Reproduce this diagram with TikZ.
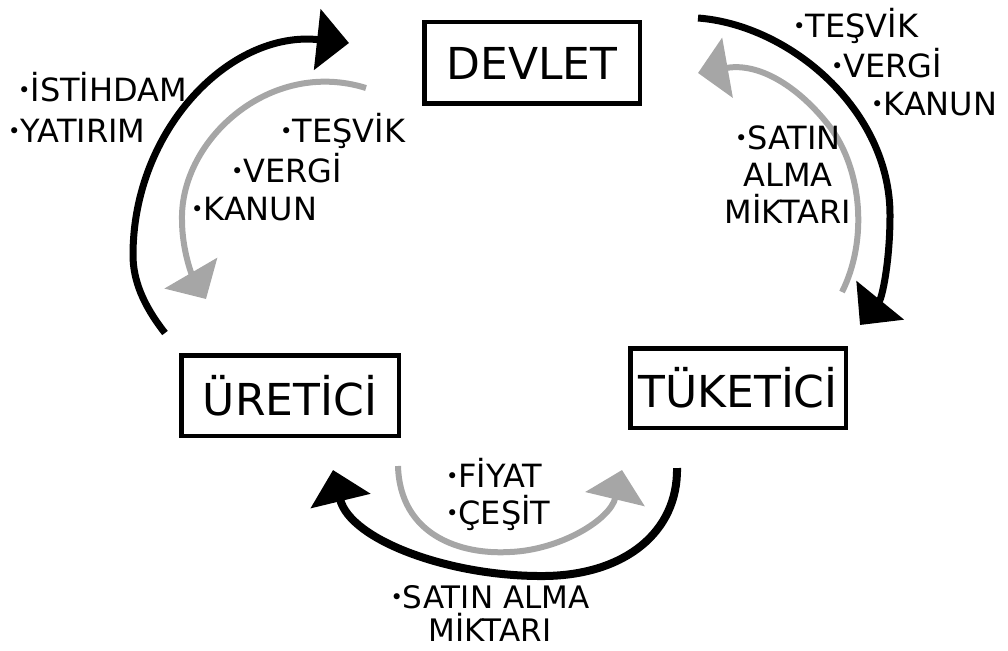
\documentclass[tikz,border=0pt]{standalone}
\usepackage{fontspec}
\setmainfont{DejaVu Sans}
\usetikzlibrary{arrows.meta}
\definecolor{arrowGray}{RGB}{166,166,166}

\newcommand{\bul}{\raisebox{4pt}{\fontsize{21}{21}\selectfont •}}

\begin{document}
\begin{tikzpicture}[x=1pt,y=-1pt,
  box/.style={draw,line width=4.5pt,inner sep=0pt,font=\fontsize{44}{50}\selectfont},
  lbl/.style={inner sep=0pt,font=\fontsize{32}{37}\selectfont},
  blackarc/.style={line width=7pt,-{Triangle[width=60pt,length=32pt]}},
  grayarc/.style={arrowGray,line width=6pt,-{Triangle[width=60pt,length=30pt]}}]
  \useasboundingbox (0,0) rectangle (1008,650);

  % the three actors
  \node[box,minimum width=215.5pt,minimum height=81.5pt] (devlet) at (532,63) {DEVLET};
  \node[box,minimum width=217.5pt,minimum height=80.5pt] (uretici) at (290,395.5) {ÜRETİCİ};
  \node[box,minimum width=215.5pt,minimum height=79.5pt] (tuketici) at (738,388) {TÜKETİCİ};

  % ends of the curved arrows
  \coordinate (urUp) at (165,333);
  \coordinate (dvIn) at (349,43);
  \coordinate (dvOutL) at (366,88);
  \coordinate (urIn) at (206,299);
  \coordinate (dvOutR) at (698,18);
  \coordinate (tkIn) at (860,325);
  \coordinate (tkUp) at (842,292);
  \coordinate (dvInR) at (698,73);
  \coordinate (tkOut) at (677,468);
  \coordinate (urInB) at (333,470);
  \coordinate (urOut) at (398,466);
  \coordinate (tkInB) at (622,470);

  % uretici <-> devlet
  \draw[blackarc] (urUp) .. controls (143,305) and (133,280) .. (133,255)
    .. controls (133,130) and (230,30) .. (dvIn);
  \draw[grayarc] (dvOutL) .. controls (270,58) and (180,140) .. (182,220)
    .. controls (182,250) and (192,275) .. (urIn);
  % devlet <-> tuketici
  \draw[blackarc] (dvOutR) .. controls (790,25) and (890,110) .. (890,215)
    .. controls (890,262) and (882,298) .. (tkIn);
  \draw[grayarc] (tkUp) .. controls (868,240) and (862,170) .. (830,127)
    .. controls (800,88) and (760,62) .. (dvInR);
  % tuketici <-> uretici
  \draw[blackarc,line width=8pt] (tkOut) .. controls (678,532) and (625,575) .. (545,576)
    .. controls (450,577) and (350,540) .. (urInB);
  \draw[grayarc] (urOut) .. controls (400,535) and (460,555) .. (510,552)
    .. controls (560,550) and (610,520) .. (tkInB);

  % labels
  \node[lbl,anchor=base west] (istihdam) at (18,102) {\bul İSTİHDAM};
  \node[lbl,anchor=base west] (yatirim) at (8,142) {\bul YATIRIM};
  \node[lbl,anchor=base west] (tesvikL) at (280,142) {\bul TEŞVİK};
  \node[lbl,anchor=base west] (vergiL) at (231,182) {\bul VERGİ};
  \node[lbl,anchor=base west] (kanunL) at (191,220) {\bul KANUN};
  \node[lbl,anchor=base west] (tesvikR) at (793,38) {\bul TEŞVİK};
  \node[lbl,anchor=base west] (vergiR) at (831,78) {\bul VERGİ};
  \node[lbl,anchor=base west] (kanunR) at (871,115) {\bul KANUN};
  \node[lbl,anchor=north,align=center] (miktarR) at (788,126) {\bul SATIN\\ALMA\\MİKTARI};
  \node[lbl,anchor=north west,align=left] (fiyat) at (446,458) {\bul FİYAT\\\bul ÇEŞİT};
  \node[lbl,anchor=north,align=center,font=\fontsize{31}{33}\selectfont] (miktarB) at (490,585) {\bul SATIN ALMA\\MİKTARI};
\end{tikzpicture}
\end{document}
